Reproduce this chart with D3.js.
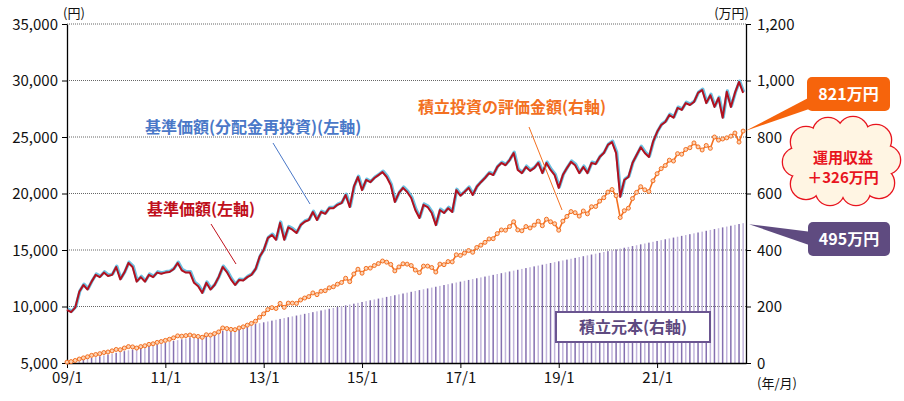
<!DOCTYPE html>
<html><head><meta charset="utf-8">
<script src="https://cdn.jsdelivr.net/npm/d3@7"></script>
<style>
html,body{margin:0;padding:0;background:#fff;}
svg{display:block;font-family:"Noto Sans CJK JP","Noto Sans",sans-serif;}
</style></head>
<body><svg id="c" width="904" height="401"></svg>
<script>
// ---- data (monthly, 2009/1 = index 0) ----
const xTickMonths = [0, 24, 48, 72, 96, 120, 144];
const xTickLabels = ["09/1", "11/1", "13/1", "15/1", "17/1", "19/1", "21/1"];
const leftTicks = [5000, 10000, 15000, 20000, 25000, 30000, 35000];
const rightTicks = [0, 200, 400, 600, 800, 1000, 1200];

// 基準価額 (円)
const navPrice = [
 9700, 9500, 9900, 11300, 11900, 11500, 12200, 12800, 12600, 13000,
 12700, 12800, 13500, 12400, 13000, 13850, 13500, 12200, 12600, 12200,
 12800, 12600, 13000, 12900, 13000, 13050, 13300, 13850, 13200, 13000,
 13000, 12100, 11800, 11200, 12100, 11500, 11900, 12600, 13500, 13050,
 12400, 11900, 12350, 12300, 12600, 12800, 13300, 14400, 15000, 16050,
 16330, 15900, 17400, 15900, 17000, 16800, 16500, 17200, 17500, 17650,
 18360, 17650, 18360, 18200, 18700, 18700, 19000, 19150, 19870, 18800,
 20600, 21460, 20300, 21200, 21000, 21370, 21630, 21900, 21460, 20750,
 19250, 20050, 20500, 20130, 19600, 18540, 17830, 19000, 18800, 18270,
 17200, 18540, 18270, 18700, 18360, 20300, 19800, 20130, 20500, 19870,
 20600, 21000, 21370, 21800, 21630, 22350, 22700, 22500, 22960, 23580,
 22080, 21800, 22350, 22000, 22250, 22700, 21800, 22700, 22080, 21630,
 20500, 21630, 22250, 22800, 22500, 21800, 22350, 21800, 22700, 22600,
 23230, 23580, 24300, 24550, 23580, 19700, 21200, 21460, 22700, 23400,
 24100, 23580, 23230, 24560, 25440, 26060, 26330, 26950, 26700, 27570,
 27400, 28000, 27830, 28100, 28900, 29160, 28000, 28700, 27660, 28450,
 26700, 29000, 27660, 28900, 29870, 28900
];
// 積立投資の評価金額 (万円)
const valuation = [
 3, 5, 9, 14, 18, 22, 27, 30, 33, 37,
 39, 43, 48, 47, 53, 58, 57, 53, 58, 61,
 66, 68, 73, 76, 80, 84, 89, 96, 95, 97,
 99, 96, 94, 91, 100, 99, 104, 110, 124, 122,
 119, 118, 124, 128, 134, 140, 148, 162, 174, 189,
 196, 193, 211, 197, 212, 212, 211, 223, 230, 235,
 248, 242, 254, 256, 266, 270, 279, 285, 300, 288,
 315, 332, 318, 335, 336, 345, 352, 361, 357, 349,
 326, 340, 351, 350, 345, 329, 320, 343, 343, 338,
 322, 350, 348, 359, 358, 383, 381, 389, 398, 392,
 409, 417, 427, 439, 440, 458, 471, 470, 483, 500,
 471, 468, 483, 478, 488, 502, 486, 509, 500, 493,
 470, 502, 519, 536, 532, 520, 538, 528, 553, 554,
 573, 585, 605, 614, 592, 515, 539, 548, 582, 604,
 624, 613, 607, 645, 670, 688, 699, 718, 715, 741,
 739, 756, 762, 779, 765, 754, 770, 760, 800, 789,
 793, 797, 803, 814, 782, 821
];
// 積立元本 (万円): 3万円 per month
const principalMonthly = 3;
const principalMonths = 165;

// ---- layout ----
const svg = d3.select("#c");
const X0 = 67, X1 = 746, YT = 24, YB = 363;
const x = d3.scaleLinear().domain([0, 165.7]).range([X0, X1]);
const yL = d3.scaleLinear().domain([5000, 35000]).range([YB, YT]);
const yR = d3.scaleLinear().domain([0, 1200]).range([YB, YT]);

// grid
svg.append("g").selectAll("line").data(leftTicks.slice(1)).join("line")
  .attr("x1", X0).attr("x2", X1).attr("y1", d => yL(d)).attr("y2", d => yL(d))
  .attr("stroke", "#666").attr("stroke-width", 1).attr("stroke-dasharray", "1,1");

// principal bars
const principal = d3.range(1, principalMonths + 1).map(i => ({m: i, v: principalMonthly * i}));
svg.append("g").selectAll("rect").data(principal).join("rect")
  .attr("x", d => x(d.m) - 0.75).attr("width", 1.5)
  .attr("y", d => yR(d.v)).attr("height", d => YB - yR(d.v))
  .attr("fill", (d, i) => i % 2 ? "#8570b0" : "#c2b5dc");

// axes
const fontTick = "15px";
const gl = svg.append("g").attr("transform", `translate(${X0},0)`)
  .call(d3.axisLeft(yL).tickValues(leftTicks).tickFormat(d3.format(",")).tickSize(5).tickSizeOuter(0));
const gr = svg.append("g").attr("transform", `translate(${X1},0)`)
  .call(d3.axisRight(yR).tickValues(rightTicks).tickFormat(d3.format(",")).tickSize(5).tickSizeOuter(0));
const gb = svg.append("g").attr("transform", `translate(0,${YB})`)
  .call(d3.axisBottom(x).tickValues(xTickMonths).tickFormat((d, i) => xTickLabels[i]).tickSize(5).tickSizeOuter(0));
[gl, gr, gb].forEach(g => {
  g.select(".domain").attr("stroke", "#000").attr("stroke-width", 1.3);
  g.selectAll(".tick line").attr("stroke", "#000");
  g.selectAll(".tick text").attr("fill", "#111").style("font-size", fontTick)
   .style("font-family", "'Noto Sans CJK JP', sans-serif");
});
gl.selectAll(".tick text").attr("x", -9).attr("dy", "0.35em");
gr.selectAll(".tick text").attr("x", 11).attr("dy", "0.35em");
gb.selectAll(".tick text").attr("y", 9);

// unit labels
svg.append("text").attr("x", 63).attr("y", 18).text("(円)").style("font-size", "13px").attr("fill", "#111");
svg.append("text").attr("x", 749).attr("y", 18).attr("text-anchor", "end").text("(万円)").style("font-size", "13px").attr("fill", "#111");
svg.append("text").attr("x", 757).attr("y", 388).text("(年/月)").style("font-size", "13px").attr("fill", "#111");

// valuation line
const lineR = d3.line().x((d, i) => x(i)).y(d => yR(d));
svg.append("path").datum(valuation).attr("d", lineR)
  .attr("fill", "none").attr("stroke", "#f37021").attr("stroke-width", 1.6);
svg.append("g").selectAll("circle").data(valuation).join("circle")
  .attr("cx", (d, i) => x(i)).attr("cy", d => yR(d)).attr("r", 2)
  .attr("fill", "#fcd2b4").attr("stroke", "#f37021").attr("stroke-width", 1);

// price lines
const lineL = d3.line().x((d, i) => x(i)).y(d => yL(d));
svg.append("path").datum(navPrice).attr("d", lineL).attr("transform", "translate(0.6,-0.9)")
  .attr("fill", "none").attr("stroke", "#6cc0e0").attr("stroke-width", 3.2).attr("stroke-linejoin", "round");
svg.append("path").datum(navPrice).attr("d", lineL)
  .attr("fill", "none").attr("stroke", "#b3101e").attr("stroke-width", 2).attr("stroke-linejoin", "round");

// series labels + leaders
function label(txt, tx, ty, color, lx1, ly1, lx2, ly2) {
  svg.append("line").attr("x1", lx1).attr("y1", ly1).attr("x2", lx2).attr("y2", ly2)
    .attr("stroke", color).attr("stroke-width", 1);
  svg.append("text").attr("x", tx).attr("y", ty).text(txt)
    .attr("fill", color).style("font-size", "16px").style("font-weight", "700");
}
label("基準価額(分配金再投資)(左軸)", 145, 133, "#4a78c8", 273, 143, 310, 204);
label("基準価額(左軸)", 147, 215, "#c0101c", 211, 224, 236, 264);
label("積立投資の評価金額(右軸)", 418, 113, "#f37021", 529, 127, 562, 210);

// principal label box
svg.append("rect").attr("x", 556).attr("y", 312).attr("width", 154).attr("height", 30)
  .attr("fill", "#fff").attr("stroke", "#6a5590").attr("stroke-width", 2);
svg.append("text").attr("x", 633).attr("y", 333).attr("text-anchor", "middle").text("積立元本(右軸)")
  .attr("fill", "#5e4a80").style("font-size", "16px").style("font-weight", "700");

// callout 821万円
const lastV = valuation[valuation.length - 1];
svg.append("path").attr("d", `M${x(valuation.length - 1) + 2},${yR(lastV)} L812,96 L812,108 Z`).attr("fill", "#f6640c");
svg.append("rect").attr("x", 807).attr("y", 77).attr("width", 83).attr("height", 34).attr("rx", 5).attr("fill", "#f6640c");
svg.append("text").attr("x", 848.5).attr("y", 100).attr("text-anchor", "middle").text(lastV + "万円")
  .attr("fill", "#fff").style("font-size", "16px").style("font-weight", "700");

// callout 495万円
const totalP = principalMonthly * principalMonths;
svg.append("path").attr("d", `M749,${yR(totalP) + 1} L812,232 L812,246 Z`).attr("fill", "#5f4b80");
svg.append("rect").attr("x", 808).attr("y", 222).attr("width", 82).attr("height", 34).attr("rx", 5).attr("fill", "#5f4b80");
svg.append("text").attr("x", 849).attr("y", 245).attr("text-anchor", "middle").text(totalP + "万円")
  .attr("fill", "#fff").style("font-size", "16px").style("font-weight", "700");

// cloud
const bumps = [[806,142,15],[828,133,15],[853,132,15],[876,140,15],[886,160,14],[879,183,15],
  [856,191,14],[830,191,14],[806,184,15],[797,162,14]];
const cloud = svg.append("g");
cloud.selectAll("circle.o").data(bumps).join("circle").attr("class", "o")
  .attr("cx", d => d[0]).attr("cy", d => d[1]).attr("r", d => d[2])
  .attr("fill", "#fff5e3").attr("stroke", "#e8141e").attr("stroke-width", 2.6);
cloud.selectAll("circle.i").data(bumps).join("circle").attr("class", "i")
  .attr("cx", d => d[0]).attr("cy", d => d[1]).attr("r", d => d[2])
  .attr("fill", "#fff5e3");
cloud.append("ellipse").attr("cx", 842).attr("cy", 162).attr("rx", 42).attr("ry", 30).attr("fill", "#fff5e3");
const gain = lastV - totalP;
svg.append("text").attr("x", 843).attr("y", 163).attr("text-anchor", "middle").text("運用収益")
  .attr("fill", "#e8141e").style("font-size", "15px").style("font-weight", "700");
svg.append("text").attr("x", 843).attr("y", 183).attr("text-anchor", "middle").text("＋" + gain + "万円")
  .attr("fill", "#e8141e").style("font-size", "15px").style("font-weight", "700");
</script></body></html>
